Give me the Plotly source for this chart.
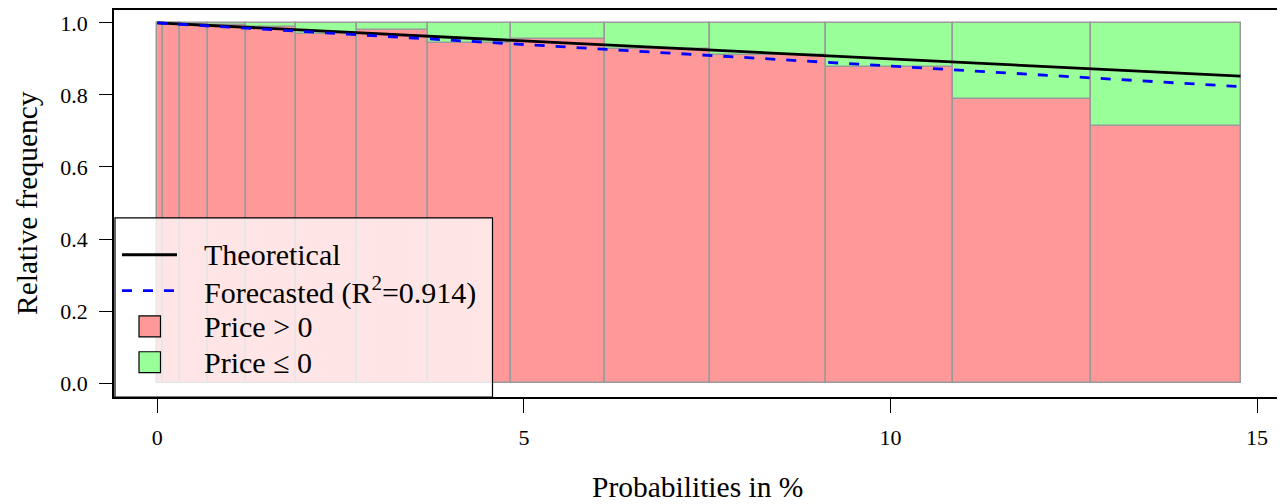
import plotly.graph_objects as go

# ---- data ----
bin_edges = [0.0, 0.079, 0.307, 0.685, 1.207, 1.885, 2.717, 3.693, 4.821,
             6.103, 7.535, 9.117, 10.846, 12.732, 14.774]
share_positive = [1.0, 1.0, 0.998, 0.995, 0.988, 0.970, 0.981, 0.944,
                  0.954, 0.929, 0.911, 0.878, 0.789, 0.714]
theo_x = [0.0, 14.774]
theo_y = [1.0, 0.8523]
fc_x = [0.0, 14.774]
fc_y = [1.0, 0.823]
x_ticks = [0, 5, 10, 15]
y_ticks = [0.0, 0.2, 0.4, 0.6, 0.8, 1.0]

RED = "#FF9999"
GREEN = "#99FF99"
BORDER = "#9a9a9a"
FONT = "Liberation Serif"

mids = [(a + b) / 2 for a, b in zip(bin_edges[:-1], bin_edges[1:])]
widths = [b - a for a, b in zip(bin_edges[:-1], bin_edges[1:])]
share_nonpos = [1 - v for v in share_positive]

fig = go.Figure()
fig.add_trace(go.Bar(x=mids, y=share_positive, width=widths, base=0,
                     marker=dict(color=RED, line=dict(color=BORDER, width=1.5)),
                     showlegend=False))
fig.add_trace(go.Bar(x=mids, y=share_nonpos, width=widths, base=share_positive,
                     marker=dict(color=GREEN, line=dict(color=BORDER, width=1.5)),
                     showlegend=False))
fig.add_trace(go.Scatter(x=theo_x, y=theo_y, mode="lines",
                         line=dict(color="black", width=2.8), showlegend=False))
fig.add_trace(go.Scatter(x=fc_x, y=fc_y, mode="lines",
                         line=dict(color="blue", width=2.8, dash="10px,11px"),
                         showlegend=False))

# ---- geometry: page has an 8px body margin ----
OFF = 8
W, H = 1285 - OFF, 504 - OFF
L, R, T, B = 114, 1282, 8, 397   # plot area in screen pixels

def px(xp):
    return (xp - L) / (R - L)

def py(yp):
    return (B - yp) / (B - T)

shapes = []
annotations = []
# legend box
shapes.append(dict(type="rect", xref="paper", yref="paper",
                   x0=px(115), x1=px(492.5), y0=py(397), y1=py(217),
                   fillcolor="rgba(255,255,255,0.75)",
                   line=dict(color="black", width=1.2), layer="above"))
rows = [254, 290, 326, 362]
shapes.append(dict(type="line", xref="paper", yref="paper",
                   x0=px(122), x1=px(177), y0=py(rows[0]), y1=py(rows[0]),
                   line=dict(color="black", width=2.8), layer="above"))
shapes.append(dict(type="line", xref="paper", yref="paper",
                   x0=px(122), x1=px(177), y0=py(rows[1]), y1=py(rows[1]),
                   line=dict(color="blue", width=2.8, dash="10px,11px"), layer="above"))
for r, c in [(rows[2], RED), (rows[3], GREEN)]:
    shapes.append(dict(type="rect", xref="paper", yref="paper",
                       x0=px(139), x1=px(160.5), y0=py(r + 10.5), y1=py(r - 10.5),
                       fillcolor=c, line=dict(color="black", width=1.2), layer="above"))
labels = ["Theoretical", "Forecasted (R<sup>2</sup>=0.914)", "Price &gt; 0", "Price ≤ 0"]
for r, t in zip(rows, labels):
    annotations.append(dict(xref="paper", yref="paper", x=px(202), y=py(r),
                            text=t, showarrow=False, xanchor="left", yanchor="middle",
                            font=dict(family=FONT, size=30, color="black")))

# axis titles
annotations.append(dict(xref="paper", yref="paper", x=px(697), y=py(487),
                        text="Probabilities in %", showarrow=False,
                        xanchor="center", yanchor="middle",
                        font=dict(family=FONT, size=29.5, color="black")))
annotations.append(dict(xref="paper", yref="paper", x=px(27), y=py(202),
                        text="Relative frequency", showarrow=False, textangle=-90,
                        xanchor="center", yanchor="middle",
                        font=dict(family=FONT, size=29.5, color="black")))

fig.update_layout(
    width=W, height=H,
    margin=dict(l=L - OFF, r=W - (R - OFF), t=T - OFF, b=H - (B - OFF), pad=0),
    plot_bgcolor="white", paper_bgcolor="white",
    barmode="overlay", bargap=0,
    shapes=shapes, annotations=annotations,
    font=dict(family=FONT, color="black"),
)
fig.update_xaxes(range=[-0.591, 15.34], tickvals=x_ticks, ticktext=[str(v) for v in x_ticks],
                 showgrid=False, zeroline=False, showline=True, mirror=True,
                 linecolor="black", linewidth=1.5, ticks="outside", ticklen=14,
                 tickwidth=1.2, tickcolor="black", ticklabelstandoff=6,
                 tickfont=dict(family=FONT, size=22, color="black"))
fig.update_yaxes(range=[-0.0387, 1.0359], tickvals=y_ticks, ticktext=[f"{v:.1f}" for v in y_ticks],
                 showgrid=False, zeroline=False, showline=True, mirror=True,
                 linecolor="black", linewidth=1.5, ticks="outside", ticklen=13,
                 tickwidth=1.2, tickcolor="black", ticklabelstandoff=7,
                 tickfont=dict(family=FONT, size=22, color="black"))

fig.write_html("out.html")
